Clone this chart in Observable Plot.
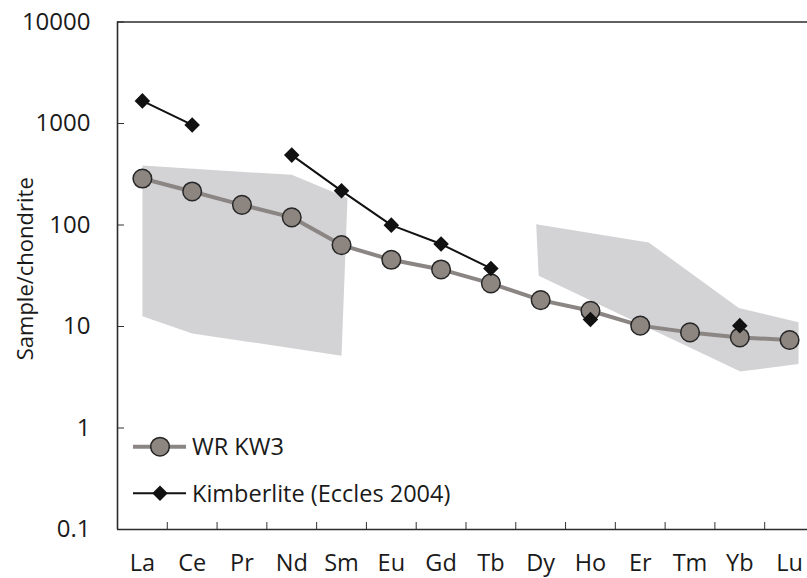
<!DOCTYPE html>
<html><head><meta charset="utf-8">
<script src="https://cdn.jsdelivr.net/npm/d3@7"></script>
<script src="https://cdn.jsdelivr.net/npm/@observablehq/plot@0.6"></script>
<style>
html,body{margin:0;padding:0;background:#fff;overflow:hidden;}
#chart svg{display:block;overflow:hidden;}
</style></head><body><div id="chart"></div>
<script>
const elements = ["La","Ce","Pr","Nd","Sm","Eu","Gd","Tb","Dy","Ho","Er","Tm","Yb","Lu"];
const wrKW3 = [287,214,158,119,63.4,45.4,36.5,26.6,18.2,14.3,10.2,8.75,7.8,7.36];
const kimberlite = [1670,968,null,488,217,99.7,64.9,37.3,null,11.7,null,null,10.2,null];
// grey fields (x = element position index, y = sample/chondrite)
const lreeFieldX = [0,3,4.12,4,1,0];
const lreeFieldY = [385,312,185,5.16,8.55,12.6];
const hreeFieldX = [7.91,10.17,11.98,13.18,13.18,12.01,7.96];
const hreeFieldY = [102,67.3,15.2,11.0,4.27,3.61,31.6];
const yTicks = [0.1,1,10,100,1000,10000];
const seriesNames = ["WR KW3","Kimberlite (Eccles 2004)"];

const wr = elements.map((e,i)=>({i, v: wrKW3[i]}));
const kimb = elements.map((e,i)=>({i, v: kimberlite[i] == null ? NaN : kimberlite[i]}));
const fields = [
  ...lreeFieldX.map((x,k)=>({f:"lree", x, y: lreeFieldY[k]})),
  ...hreeFieldX.map((x,k)=>({f:"hree", x, y: hreeFieldY[k]}))
];

const wrLine = "#8b8683", wrFill = "#8d8580", ink = "#1a1a1a";

const chart = Plot.plot({
  width: 807, height: 578,
  marginLeft: 117, marginRight: 0, marginTop: 21.5, marginBottom: 49,
  style: {fontFamily: "'Open Sans', sans-serif", fontSize: "23px", color: ink, background: "#fff"},
  x: {type: "linear", domain: [-0.5, 13.36]},
  y: {type: "log", domain: [0.1, 10000]},
  marks: [
    Plot.line(fields, {x:"x", y:"y", z:"f", fill:"#d3d3d5", stroke:"none"}),
    Plot.axisY({ticks: yTicks, tickSize: 0, tickPadding: 27, fontSize: 24, tickFormat: d => String(d), label: null}),
    Plot.axisY({ticks: yTicks, tickSize: 7, dx: 7, fill: "none", stroke: "#333", label: null}),
    Plot.axisX({ticks: d3.range(14), tickSize: 0, tickPadding: 25, fontSize: 23.5, tickFormat: i => elements[i], label: null}),
    Plot.axisX({ticks: d3.range(0.5, 13, 1), tickSize: 7, dy: -7, fill: "none", stroke: "#333", label: null}),
    Plot.text(["Sample/chondrite"], {frameAnchor: "left", textAnchor: "middle", lineAnchor: "middle", rotate: -90, dx: -92, dy: -7, fill: ink, fontSize: 22}),
    Plot.ruleX([-0.5], {stroke: "#2b2b2b", strokeWidth: 1.6}),
    Plot.ruleY([0.1, 10000], {stroke: "#2b2b2b", strokeWidth: 1.6}),
    Plot.line(wr, {x:"i", y:"v", stroke: wrLine, strokeWidth: 4}),
    Plot.dot(wr, {x:"i", y:"v", r: 9.3, fill: wrFill, stroke: "#262626", strokeWidth: 1.5}),
    Plot.line(kimb, {x:"i", y:"v", stroke: "#111", strokeWidth: 2}),
    Plot.dot(kimb.filter(d => !isNaN(d.v)), {x:"i", y:"v", symbol: "square", rotate: 45, r: 6.2, fill: "#111", stroke: "none"})
  ]
});
document.getElementById("chart").appendChild(chart);

// legend inside the plot (bottom-left)
const svg = d3.select(chart);
const lg = svg.append("g").attr("font-family", "'Open Sans', sans-serif").attr("font-size", 23.5).attr("fill", ink).attr("text-anchor", "start");
const rows = [446.7, 493.3];
lg.append("line").attr("x1",133).attr("x2",186).attr("y1",rows[0]).attr("y2",rows[0]).attr("stroke",wrLine).attr("stroke-width",4);
lg.append("circle").attr("cx",160).attr("cy",rows[0]).attr("r",9.3).attr("fill",wrFill).attr("stroke","#262626").attr("stroke-width",1.5);
lg.append("text").attr("x",192).attr("y",rows[0]).attr("dy","0.35em").text(seriesNames[0]);
lg.append("line").attr("x1",133).attr("x2",186).attr("y1",rows[1]).attr("y2",rows[1]).attr("stroke","#111").attr("stroke-width",2);
lg.append("path").attr("d", d3.symbol(d3.symbolSquare, Math.PI*6.2*6.2)()).attr("transform",`translate(160,${rows[1]}) rotate(45)`).attr("fill","#111");
lg.append("text").attr("x",192).attr("y",rows[1]).attr("dy","0.35em").text(seriesNames[1]);
</script></body></html>
